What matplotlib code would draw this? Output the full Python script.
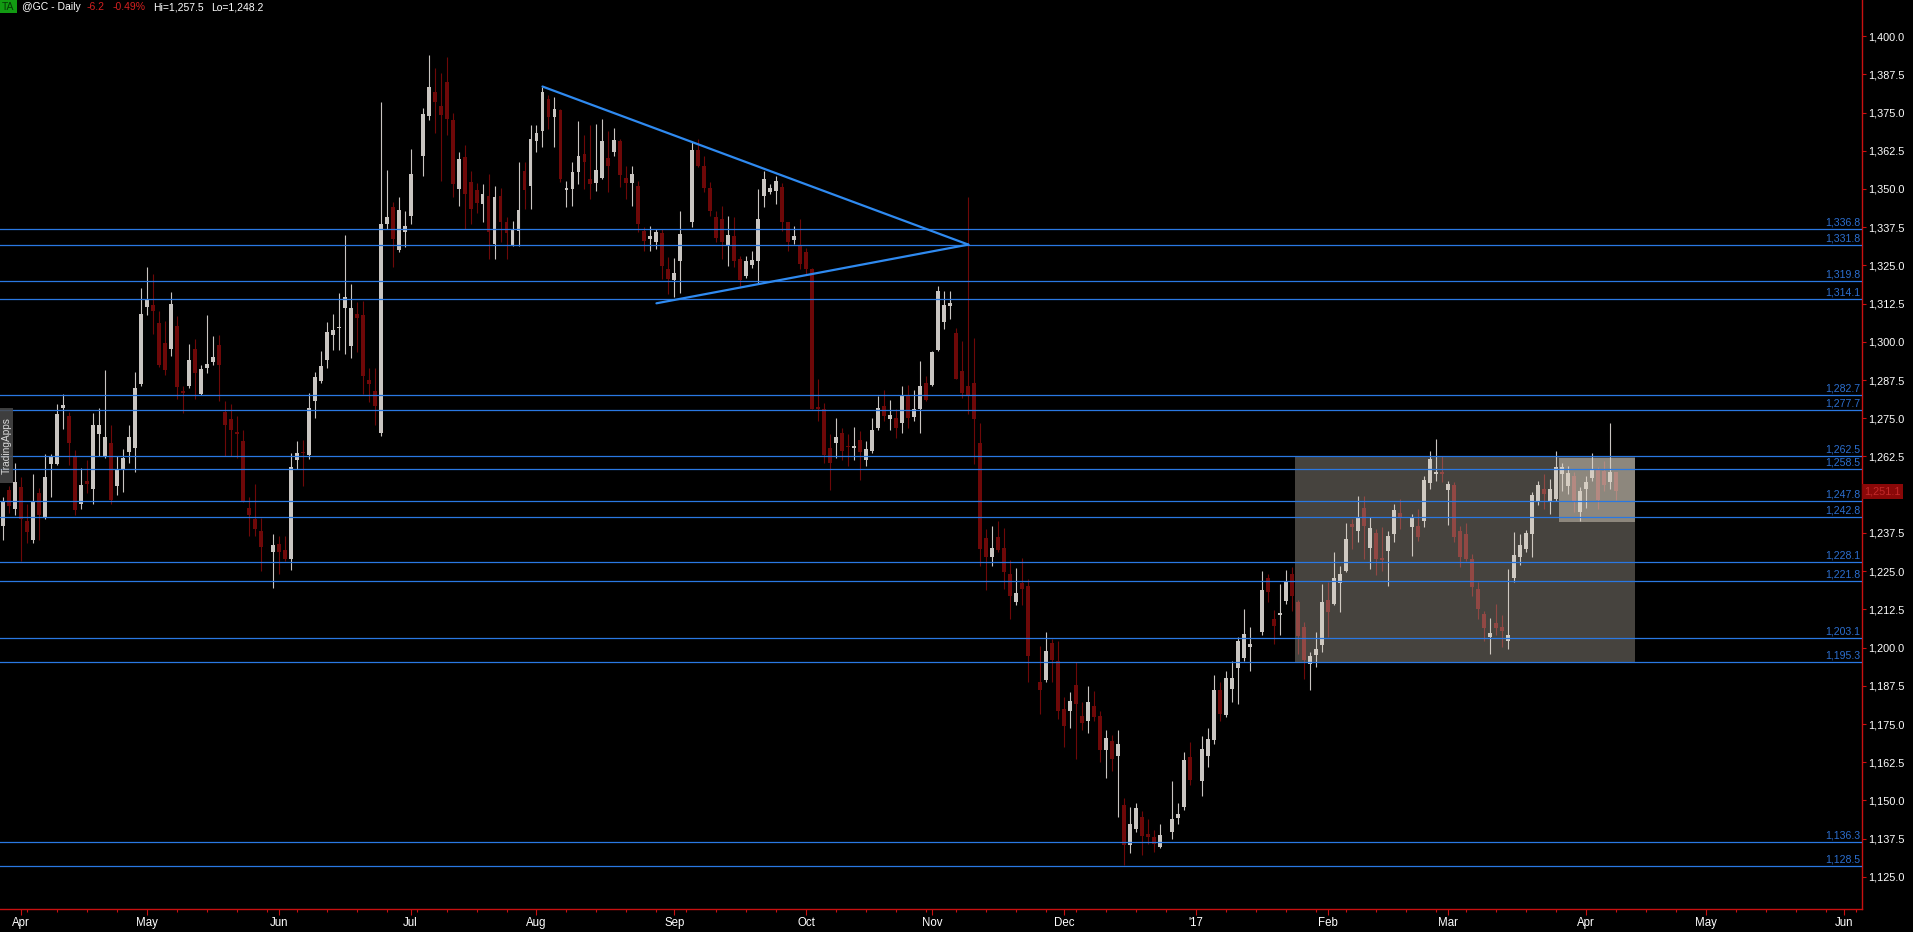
import matplotlib
matplotlib.use("Agg")
import matplotlib.pyplot as plt
from matplotlib.patches import Rectangle
import matplotlib.transforms as mtransforms
import numpy as np
import pandas as pd

W, H, DPI = 1913, 932, 100
plt.rcParams['font.family'] = ['Liberation Sans', 'DejaVu Sans']

# daily bars from 2016-03-29 (business days, None = holiday, no bar)
opens = [
    1239.9, 1251.6, 1245.2, 1252.4, 1241.3, 1235.3, 1250.7, 1242.3, 1260.1, 1260.0,
    1278.2, 1275.8, 1262.4, 1246.9, 1254.5, 1252.0, 1269.7, 1262.7, 1266.8, 1252.8,
    1258.4, 1264.1, 1265.4, 1286.3, 1311.5, 1312.0, 1306.2, 1299.5, 1297.5, 1305.3,
    1283.7, 1285.7, 1297.5, 1282.8, 1291.3, 1293.4, 1298.9, 1277.1, 1274.6, 1270.3,
    1267.7, 1245.5, 1242.0, 1238.2, None, 1231.2, 1233.9, 1231.8, 1228.9, 1261.5,
    1264.1, 1262.9, 1280.6, 1287.2, 1294.2, 1302.1, 1304.4, 1311.0, 1298.6, 1309.1,
    1308.9, 1287.5, 1284.0, 1270.3, 1338.4, 1344.2, 1329.9, 1336.0, 1341.0, None,
    1360.8, 1373.9, 1381.8, 1377.2, 1385.0, 1372.5, 1350.1, 1360.5, 1352.3, 1349.5,
    1345.0, 1347.8, 1332.0, 1347.8, 1339.1, 1331.6, 1336.3, 1356.0, 1351.1, 1365.8,
    1369.1, 1379.5, 1373.5, 1375.7, 1349.8, 1350.0, 1355.7, 1361.5, 1353.3, 1352.0,
    1353.6, 1360.0, 1362.2, 1365.6, 1353.5, 1351.9, 1350.9, 1336.2, 1333.6, 1332.5,
    1335.6, 1323.7, 1320.3, 1326.5, None, 1339.3, 1362.6, 1357.6, 1350.2, 1340.7,
    1340.1, 1331.4, 1334.5, 1327.0, 1321.6, 1325.1, 1326.5, 1347.8, 1348.9, 1349.4,
    1350.5, 1339.1, 1333.4, 1331.6, 1329.4, 1323.8, 1278.6, 1277.9, 1265.3, 1266.9,
    1270.2, 1266.0, 1265.3, 1267.8, 1261.5, 1264.2, 1271.8, 1278.9, 1274.8, 1275.1,
    1273.5, 1282.2, 1275.4, 1277.9, 1286.6, 1286.0, 1297.3, 1306.5, 1311.7, 1303.0,
    1290.4, 1285.5, 1286.6, 1266.8, 1235.8, 1229.5, 1236.1, 1232.6, 1224.0, 1215.0,
    1221.2, 1220.0, None, 1188.6, 1189.4, 1201.5, 1195.7, 1179.9, 1179.2, 1187.8,
    1177.6, 1176.0, 1181.0, 1177.6, 1166.6, 1169.4, 1164.7, 1148.5, 1135.4, 1140.6,
    1144.6, 1139.0, 1137.9, 1134.8, None, 1139.8, 1144.3, 1148.0, 1164.2, None,
    1156.3, 1164.7, 1169.7, 1186.2, 1177.9, 1186.5, 1193.3, 1196.5, 1200.1, None,
    1205.1, 1222.8, 1209.2, 1210.8, 1215.1, 1224.1, 1214.8, 1206.7, 1194.7, 1197.7,
    1200.9, 1215.4, 1214.3, 1221.2, 1225.2, 1240.4, 1238.2, 1245.8, 1232.6, 1237.6,
    1229.2, 1231.7, 1237.1, 1243.9, None, 1239.6, 1239.9, 1241.5, 1253.7, 1256.7,
    1257.2, 1251.6, 1253.1, 1238.2, 1237.1, 1229.0, 1219.0, 1211.0, 1203.4, 1208.1,
    1206.7, 1202.0, 1222.7, 1229.5, 1232.2, 1237.1, 1248.0, 1251.8, 1248.0, 1248.6,
    1256.7, 1252.9, 1256.2, 1244.4, 1252.0, 1255.4, 1258.3, 1257.8, 1254.0, 1257.3,
]
highs = [
    1249.3, 1253.0, 1260.4, 1255.7, 1246.9, 1256.9, 1252.2, 1263.3, 1263.3, 1279.7,
    1283.1, 1277.1, 1264.5, 1258.6, 1261.5, 1276.7, 1278.5, 1290.8, 1272.7, 1262.7,
    1265.0, 1272.9, 1290.2, 1317.6, 1324.4, 1322.3, 1310.2, 1306.8, 1316.2, 1308.3,
    1285.5, 1299.3, 1300.9, 1292.5, 1308.9, 1301.8, 1302.1, 1280.5, 1279.6, 1275.6,
    1271.2, 1249.3, 1253.4, 1242.3, None, 1237.0, 1236.4, 1236.4, 1263.5, 1267.6,
    1268.0, 1283.4, 1290.2, 1296.9, 1306.5, 1309.2, 1316.1, 1334.9, 1318.8, 1313.0,
    1313.5, 1291.3, 1291.3, 1378.6, 1356.2, 1345.6, 1347.4, 1342.7, 1363.2, None,
    1376.6, 1393.8, 1389.4, 1388.0, 1393.0, 1374.8, 1362.0, 1364.3, 1355.8, 1352.1,
    1351.6, 1354.9, 1351.1, 1350.2, 1340.7, 1339.6, 1358.7, 1358.7, 1370.8, 1370.8,
    1383.3, 1380.6, 1380.0, 1376.2, 1352.7, 1358.7, 1372.1, 1367.7, 1371.0, 1371.3,
    1373.0, 1369.1, 1369.9, 1366.4, 1357.6, 1357.6, 1352.7, 1337.4, 1338.0, 1336.9,
    1336.9, 1327.6, 1327.3, 1342.9, None, 1365.3, 1366.4, 1360.9, 1352.2, 1342.9,
    1344.5, 1341.2, 1340.7, 1328.1, 1328.1, 1329.8, 1350.0, 1356.0, 1351.6, 1354.4,
    1352.0, 1339.3, 1338.0, 1340.1, 1330.8, 1324.3, 1287.9, 1280.0, 1269.7, 1275.1,
    1271.8, 1269.7, 1272.1, 1270.7, 1267.5, 1275.1, 1282.4, 1284.4, 1281.1, 1277.9,
    1285.7, 1286.0, 1284.4, 1293.7, 1288.8, 1297.0, 1318.3, 1316.6, 1316.6, 1304.6,
    1300.3, 1347.5, 1301.1, 1273.5, 1238.9, 1239.7, 1241.3, 1239.2, 1228.7, 1226.0,
    1229.2, 1222.4, None, 1200.4, 1205.1, 1202.8, 1202.0, 1183.9, 1185.4, 1195.2,
    1182.3, 1187.3, 1185.8, 1179.2, 1172.9, 1171.3, 1173.2, 1150.8, 1148.0, 1149.3,
    1146.4, 1143.8, 1140.2, 1142.2, None, 1156.3, 1149.3, 1165.8, 1169.0, None,
    1171.0, 1173.6, 1190.9, 1188.6, 1192.5, 1195.7, 1203.5, 1212.5, 1206.7, None,
    1225.2, 1224.1, 1212.4, 1220.8, 1225.5, 1226.3, 1215.4, 1208.3, 1198.5, 1205.1,
    1220.8, 1221.4, 1231.2, 1226.8, 1240.9, 1242.0, 1249.6, 1249.6, 1242.6, 1238.8,
    1239.3, 1238.2, 1246.9, 1248.6, None, 1243.7, 1245.3, 1256.2, 1264.3, 1268.1,
    1262.5, 1254.5, 1254.2, 1239.9, 1240.7, 1230.6, 1221.4, 1212.1, 1209.6, 1214.3,
    1210.5, 1225.7, 1237.7, 1237.1, 1238.6, 1250.9, 1254.5, 1256.7, 1255.1, 1264.3,
    1260.5, 1259.4, 1257.5, 1252.4, 1256.2, 1263.8, 1258.9, 1261.1, 1273.6, 1257.5,
]
lows = [
    1235.3, 1244.0, 1243.4, 1228.3, 1234.1, 1234.1, 1235.3, 1242.0, 1249.3, 1259.6,
    1271.5, 1259.6, 1243.4, 1245.2, 1250.5, 1246.9, 1262.7, 1262.1, 1246.9, 1249.9,
    1251.0, 1260.4, 1257.5, 1285.5, 1308.8, 1302.4, 1291.9, 1289.0, 1295.4, 1281.4,
    1276.7, 1284.9, 1281.4, 1282.6, 1289.9, 1292.5, 1280.8, 1262.7, 1262.6, 1262.1,
    1247.5, 1236.4, 1236.4, 1225.1, None, 1219.5, 1224.2, 1228.3, 1225.4, 1258.4,
    1252.8, 1261.8, 1275.2, 1286.6, 1291.3, 1297.4, 1297.2, 1296.0, 1294.8, 1296.8,
    1282.9, 1280.2, 1272.9, 1269.1, 1336.9, 1324.4, 1329.5, 1331.0, 1338.6, None,
    1354.4, 1372.5, 1368.4, 1352.7, 1367.8, 1347.4, 1344.5, 1336.9, 1338.6, 1342.1,
    1339.1, 1327.0, 1327.0, 1332.5, 1327.0, 1331.4, 1331.4, 1343.4, 1343.4, 1362.0,
    1363.6, 1369.7, 1363.6, 1352.2, 1344.0, 1344.5, 1351.6, 1350.0, 1346.7, 1349.4,
    1353.3, 1348.9, 1360.9, 1350.5, 1346.7, 1344.5, 1335.8, 1329.8, 1329.8, 1330.3,
    1320.5, 1315.6, 1314.5, 1316.1, None, 1337.4, 1357.1, 1348.9, 1341.2, 1332.5,
    1327.0, 1324.8, 1324.6, 1318.3, 1321.0, 1324.3, 1319.4, 1344.0, 1348.3, 1345.1,
    1336.3, 1329.8, 1332.0, 1323.8, 1322.1, 1277.9, 1274.0, 1260.4, 1251.6, 1262.0,
    1261.4, 1259.3, 1261.4, 1254.9, 1259.3, 1263.6, 1271.3, 1274.0, 1271.3, 1268.6,
    1270.2, 1271.8, 1274.0, 1270.2, 1280.6, 1285.5, 1297.0, 1304.1, 1307.4, 1287.7,
    1281.7, 1276.5, 1260.2, 1226.6, 1218.8, 1226.6, 1231.4, 1219.3, 1209.3, 1213.8,
    1213.8, 1188.9, None, 1178.4, 1188.6, 1188.6, 1176.8, 1167.4, 1173.6, 1163.4,
    1172.9, 1172.1, 1176.0, 1162.6, 1157.2, 1159.5, 1144.6, 1128.8, 1132.8, 1139.8,
    1132.0, 1135.9, 1133.2, 1134.3, None, 1137.5, 1142.2, 1146.9, 1155.2, None,
    1151.6, 1161.1, 1168.5, 1176.0, 1177.3, 1182.3, 1181.5, 1195.7, 1192.5, None,
    1204.0, 1214.8, 1201.3, 1204.0, 1214.3, 1212.1, 1198.0, 1189.8, 1186.0, 1193.6,
    1198.5, 1203.4, 1213.8, 1211.6, 1224.6, 1232.2, 1234.4, 1229.0, 1225.7, 1223.6,
    1225.2, 1220.3, 1234.6, 1238.8, None, 1230.1, 1235.0, 1239.3, 1251.8, 1254.5,
    1254.0, 1240.1, 1234.4, 1226.3, 1228.4, 1217.0, 1209.4, 1202.3, 1198.0, 1204.0,
    1200.2, 1199.6, 1221.4, 1227.1, 1231.2, 1229.5, 1246.6, 1245.3, 1243.7, 1248.0,
    1251.3, 1250.2, 1244.2, 1241.5, 1245.8, 1254.5, 1245.3, 1251.3, 1251.8, 1248.2,
]
closes = [
    1248.1, 1246.4, 1254.2, 1242.0, 1237.8, 1247.5, 1243.2, 1255.7, 1262.5, 1276.4,
    1279.3, 1266.8, 1244.9, 1253.1, 1253.4, 1272.9, 1272.7, 1268.9, 1248.3, 1258.4,
    1262.1, 1268.9, 1284.9, 1309.1, 1313.9, 1310.0, 1292.5, 1290.8, 1312.4, 1285.1,
    1283.4, 1294.0, 1289.8, 1291.1, 1292.7, 1295.2, 1292.5, 1272.9, 1271.2, 1270.0,
    1248.1, 1243.2, 1238.8, 1232.9, None, 1233.5, 1231.2, 1228.9, 1258.9, 1263.5,
    1263.5, 1278.2, 1288.6, 1292.2, 1303.2, 1303.9, 1304.6, 1314.7, 1311.0, 1307.9,
    1288.8, 1286.1, 1279.1, 1338.4, 1340.7, 1333.7, 1343.0, 1338.0, 1355.0, None,
    1374.6, 1383.4, 1378.4, 1374.3, 1372.9, 1351.5, 1359.7, 1348.2, 1343.3, 1345.4,
    1348.3, 1335.8, 1347.3, 1339.1, 1335.6, 1336.9, 1343.1, 1349.8, 1366.4, 1368.3,
    1381.7, 1373.5, 1376.2, 1353.3, 1350.2, 1355.5, 1360.7, 1358.7, 1351.6, 1356.3,
    1365.6, 1357.4, 1366.1, 1354.7, 1351.8, 1354.9, 1338.5, 1333.1, 1334.7, 1335.8,
    1324.8, 1320.5, 1322.6, 1335.2, None, 1362.8, 1357.6, 1350.2, 1342.9, 1334.1,
    1332.5, 1334.9, 1326.5, 1320.3, 1326.5, 1326.8, 1340.1, 1353.3, 1350.2, 1352.7,
    1339.1, 1332.5, 1334.5, 1325.4, 1323.8, 1278.1, 1277.9, 1263.1, 1260.4, 1268.9,
    1264.2, 1265.6, 1266.0, 1263.9, 1264.9, 1271.3, 1278.4, 1275.7, 1276.2, 1271.8,
    1282.2, 1275.1, 1277.9, 1285.5, 1281.1, 1296.6, 1316.6, 1312.0, 1312.8, 1287.9,
    1283.3, 1282.5, 1274.6, 1232.3, 1229.5, 1232.6, 1231.8, 1224.8, 1216.9, 1217.7,
    1219.3, 1197.2, None, 1186.2, 1198.8, 1196.1, 1179.2, 1174.4, 1182.6, 1181.5,
    1175.2, 1182.3, 1177.3, 1166.6, 1170.5, 1163.7, 1168.5, 1135.4, 1142.2, 1147.4,
    1138.3, 1137.9, 1135.9, 1138.6, None, 1143.8, 1145.7, 1163.1, 1156.8, None,
    1166.9, 1170.0, 1186.2, 1178.4, 1190.2, 1190.2, 1202.0, 1204.6, 1201.2, None,
    1218.9, 1218.1, 1207.2, 1211.1, 1221.6, 1216.8, 1203.8, 1196.1, 1197.2, 1199.4,
    1214.8, 1211.6, 1222.7, 1224.1, 1235.5, 1239.3, 1242.6, 1239.9, 1239.1, 1229.0,
    1228.8, 1236.6, 1245.1, 1242.4, None, 1242.3, 1236.1, 1254.8, 1261.6, 1257.3,
    1256.9, 1253.5, 1236.1, 1229.5, 1229.0, 1219.7, 1212.7, 1206.4, 1204.8, 1206.4,
    1205.4, 1204.2, 1230.3, 1233.6, 1237.5, 1249.9, 1253.1, 1250.2, 1251.8, 1258.9,
    1258.9, 1257.0, 1248.0, 1251.3, 1254.2, 1258.3, 1248.3, 1253.2, 1257.3, 1251.1,
]

levels = [1336.8, 1331.8, 1319.8, 1314.1, 1282.7, 1277.7, 1262.5, 1258.5,
          1247.8, 1242.8, 1228.1, 1221.8, 1203.1, 1195.3, 1136.3, 1128.5]

# triangle trend lines: (date, price) end points
tri_upper = [("2016-08-02", 1383.5), ("2016-11-09", 1331.8)]
tri_lower = [("2016-08-29", 1312.6), ("2016-11-09", 1331.8)]

# shaded zones: start date, end date, low, high
zones = [("2017-01-24", "2017-04-13", 1195.3, 1262.5),
         ("2017-03-27", "2017-04-13", 1241.2, 1261.9)]

last_price = 1251.1

UP = '#c9c5c1'
DN = '#6e0808'
LINE = '#2a78e2'
LBL = '#2c6fd0'
AXIS = '#c81010'

dates = pd.bdate_range("2016-03-29", "2017-06-30")
pos = pd.Series(np.arange(len(dates)), index=dates)

o = np.array(opens, dtype=float)
h = np.array(highs, dtype=float)
l = np.array(lows, dtype=float)
c = np.array(closes, dtype=float)
x = np.arange(len(o))
ok = ~np.isnan(o)

fig = plt.figure(figsize=(W / DPI, H / DPI), dpi=DPI, facecolor='black')
ax = fig.add_axes([0, 1 - 909 / H, 1862 / W, 909 / H], facecolor='black')

# candles
for mask, col in ((ok & (c >= o), UP), (ok & (c < o), DN)):
    ax.vlines(x[mask], l[mask], h[mask], color=col, lw=0.8, zorder=2)
    body = np.maximum(np.abs(c[mask] - o[mask]), 0.4)
    ax.bar(x[mask], body, bottom=np.minimum(o[mask], c[mask]), width=0.66,
           color=col, lw=0, zorder=2)

# shaded zones drawn over the candles, semi transparent
zone_alpha = [0.32, 0.48]
for (d0, d1, lo, hi), a in zip(zones, zone_alpha):
    x0, x1 = pos[pd.Timestamp(d0)] + 0.4, pos[pd.Timestamp(d1)] + 0.2
    ax.add_patch(Rectangle((x0, lo), x1 - x0, hi - lo, facecolor='#dcd2c4',
                           alpha=a, lw=0, zorder=3))

# horizontal levels with their labels
trans = mtransforms.blended_transform_factory(ax.transAxes, ax.transData)
for lv in levels:
    ax.axhline(lv, color=LINE, lw=0.9, zorder=4)
    ax.text(0.9992, lv + 0.5, f"{lv:,.1f}", transform=trans, ha='right',
            va='bottom', color=LBL, fontsize=7.6, zorder=5)

# triangle
for seg in (tri_upper, tri_lower):
    xs = [pos[pd.Timestamp(d)] for d, _ in seg]
    ys = [p for _, p in seg]
    ax.plot(xs, ys, color='#2f8af0', lw=1.6, zorder=5, solid_capstyle='round')

# month ticks
first = ~pd.Series(dates.to_period('M')).duplicated().values
first[0] = False
mpos = np.flatnonzero(first)
mlab = ["'17" if d.month == 1 else d.strftime('%b') for d in dates[first]]
ax.set_xticks(mpos)
ax.set_xticklabels(mlab, family=['Liberation Sans Narrow', 'Liberation Sans'],
                   fontsize=8.3)
mondays = [i for i in np.flatnonzero(dates.weekday == 0) if i not in set(mpos)]
ax.set_xticks(mondays, minor=True)
ax.tick_params(axis='x', which='major', color=AXIS, labelcolor='white',
               length=4.5, width=0.8, pad=1)
ax.tick_params(axis='x', which='minor', color=AXIS, length=2.5, width=0.8)

# price axis on the right (1,250.0 sits under the last price flag)
yt = np.arange(1125, 1400.01, 12.5)
ax.yaxis.tick_right()
ax.set_yticks(yt)
ax.set_yticklabels(["" if v == 1250 else f"{v:,.1f}" for v in yt], fontsize=7.8)
ax.tick_params(axis='y', color=AXIS, labelcolor='white', length=3, width=0.8, pad=1.5)

ax.set_xlim(-0.45, 310.0)
ax.set_ylim(1114.5, 1411.8)

for s in ('top', 'left'):
    ax.spines[s].set_visible(False)
for s in ('right', 'bottom'):
    ax.spines[s].set_color(AXIS)
    ax.spines[s].set_linewidth(1.0)

# last price flag
yl = ax.transData.transform((0, last_price))[1] / H
fig.text(1864 / W, yl, f"{last_price:,.1f}", ha='left', va='center', fontsize=7.8,
         color='#c42a2a', zorder=10,
         bbox=dict(boxstyle='square,pad=0.2', fc='#8a0808', ec='none'))

# header
fig.add_artist(Rectangle((0, 1 - 13 / H), 17 / W, 13 / H, transform=fig.transFigure,
                         fc='#129a12', ec='none'))
fig.text(1.5 / W, 1 - 7 / H, "TA", ha='left', va='center', fontsize=7.5, color='#043804')
head = [(22, "@GC - Daily", 'white'), (87, "-6.2", '#d42020'),
        (113, "-0.49%", '#d42020'), (153, "Hi=1,257.5", 'white'),
        (211, "Lo=1,248.2", 'white')]
for px, txt, col in head:
    fig.text(px / W, 1 - 7 / H, txt, ha='left', va='center', fontsize=7.5, color=col)

# watermark
fig.add_artist(Rectangle((0, 1 - 483 / H), 13 / W, 75 / H, transform=fig.transFigure,
                         fc='#4a4a4a', ec='none', alpha=0.85))
fig.text(6.5 / W, 1 - 445.5 / H, "TradingApps", rotation=90, ha='center',
         va='center', fontsize=7.3, color='#d8d8d8')

fig.savefig('out.png', dpi=DPI, facecolor='black')
